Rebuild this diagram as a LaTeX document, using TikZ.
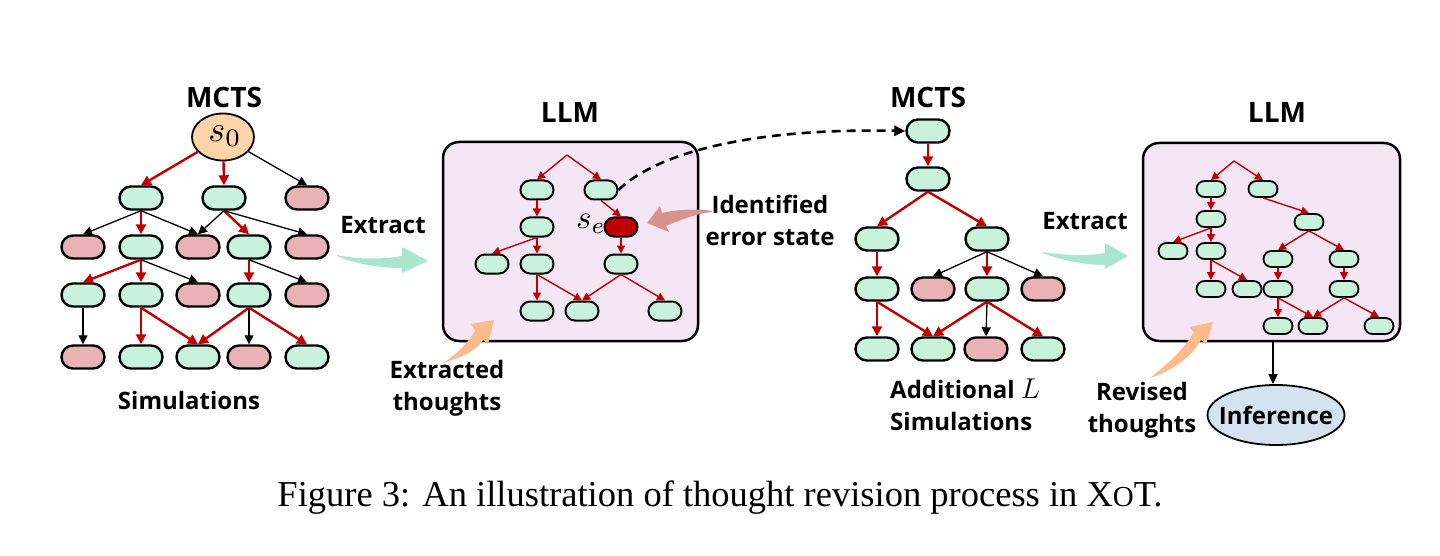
\documentclass[tikz,border=0pt]{standalone}
\usepackage{graphicx}
\usepackage{fontspec}
\setmainfont{Open Sans}
\newfontfamily\capfont{Liberation Serif}
\usetikzlibrary{arrows.meta,shapes.geometric}
\definecolor{mint}{HTML}{C8F2DC}
\definecolor{pinkn}{HTML}{E8B2B6}
\definecolor{redE}{HTML}{C00000}
\definecolor{lav}{HTML}{F4E6F4}
\definecolor{peach}{HTML}{FDD3A8}
\definecolor{arrOr}{HTML}{FDBA8A}
\definecolor{arrGr}{HTML}{A8E6CE}
\definecolor{arrPk}{HTML}{D9938E}
\definecolor{infblue}{HTML}{D5E3F1}
\begin{document}
\begin{tikzpicture}[x=1pt,y=-1pt,
  bignode/.style={draw=black,line width=2.4pt,rounded corners=11.5pt,minimum width=43pt,minimum height=23pt,inner sep=0pt},
  g/.style={bignode,fill=mint}, p/.style={bignode,fill=pinkn},
  smnode/.style={draw=black,line width=2pt,rounded corners=9.5pt,minimum width=33pt,minimum height=19pt,inner sep=0pt,fill=mint},
  tinynode/.style={draw=black,line width=1.8pt,rounded corners=8pt,minimum width=29pt,minimum height=16pt,inner sep=0pt,fill=mint},
  rr/.style={draw=redE,line width=2.4pt,-{Triangle[length=10pt,width=10pt]}},
  bb/.style={draw=black,line width=1.3pt,-{Triangle[length=9pt,width=9pt]}},
  rt/.style={draw=redE,line width=1.4pt,-{Triangle[length=8pt,width=8pt]}},
  lbl/.style={font=\fontsize{24}{32}\selectfont\bfseries,align=center,inner sep=0pt},
  ttl/.style={font=\fontsize{28}{32}\selectfont\bfseries,align=center,inner sep=0pt},
  llmbox/.style={draw=black,line width=2.5pt,fill=lav,rounded corners=16pt,inner sep=0pt},
]
\useasboundingbox (0,0) rectangle (1440,556);
\fill[white] (0,0) rectangle (1440,556);

% ---------- left MCTS tree ----------
\node[ttl] (mcts1) at (224,98) {MCTS};
\node[ellipse,draw=black,line width=1.8pt,fill=peach,minimum width=62pt,minimum height=47pt,inner sep=0pt] (s0) at (223,137) {};
\node[inner sep=0pt] (s0t) at (225,136) {\scalebox{3.6}{$s_0$}};
\node[g] (a1) at (141,198) {};
\node[g] (a2) at (224,198) {};
\node[p] (a3) at (307,198) {};
\node[p] (b1) at (83,247) {};
\node[g] (b2) at (141,247) {};
\node[p] (b3) at (198,247) {};
\node[g] (b4) at (249,247) {};
\node[p] (b5) at (307,247) {};
\node[g] (c1) at (83,295) {};
\node[g] (c2) at (141,295) {};
\node[p] (c3) at (198,295) {};
\node[g] (c4) at (249,295) {};
\node[p] (c5) at (307,295) {};
\node[p] (d1) at (83,357) {};
\node[g] (d2) at (141,357) {};
\node[g] (d3) at (198,357) {};
\node[p] (d4) at (249,357) {};
\node[g] (d5) at (307,357) {};
\draw[rr] (s0) -- (a1.north);
\draw[rr] (s0) -- (a2.north);
\draw[bb] (s0) -- (a3.north);
\draw[bb] (a1.south) -- (b1.north);
\draw[rr] (a1.south) -- (b2.north);
\draw[bb] (a1.south) -- (b3.north);
\draw[bb] (a2.south) -- (b3.north);
\draw[rr] (a2.south) -- (b4.north);
\draw[bb] (a2.south) -- (b5.north);
\draw[rr] (b2.south) -- (c1.north);
\draw[rr] (b2.south) -- (c2.north);
\draw[bb] (b2.south) -- (c3.north);
\draw[rr] (b4.south) -- (c4.north);
\draw[bb] (b4.south) -- (c5.north);
\draw[bb] (c1.south) -- (d1.north);
\draw[rr] (c2.south) -- (d2.north);
\draw[rr] (c2.south) -- (d3.north);
\draw[rr] (c4.south) -- (d3.north);
\draw[bb] (c4.south) -- (d4.north);
\draw[rr] (c4.south) -- (d5.north);
\node[lbl] (sim1) at (189,400) {Simulations};

% ---------- extract arrow 1 ----------
\fill[arrGr] (337,255) .. controls (360,260) and (385,259) .. (402,256) -- (402,247) -- (428,261) -- (402,273) -- (402,268) .. controls (380,268) and (355,264) .. (337,256) -- cycle;
\node[lbl] (ex1) at (383,225) {Extract};

% ---------- middle LLM box ----------
\node[ttl] (llm1) at (570,113) {LLM};
\node[llmbox,minimum width=255pt,minimum height=199pt] (box1) at (570.5,241.5) {};
\coordinate (r1) at (567,155);
\node[smnode] (m1) at (537,190) {};
\node[smnode] (m2) at (601,190) {};
\node[smnode] (m3) at (537,227) {};
\node[smnode,fill=redE] (err) at (621,227) {};
\node[smnode] (m5) at (492,264) {};
\node[smnode] (m6) at (537,264) {};
\node[smnode] (m7) at (621,264) {};
\node[smnode] (m8) at (537,311) {};
\node[smnode] (m9) at (582,311) {};
\node[smnode] (m10) at (665,311) {};
\draw[rt] (r1) -- (m1.north);
\draw[rt] (r1) -- (m2.north);
\draw[rt] (m1.south) -- (m3.north);
\draw[rt] (m2.south) -- (err.north);
\draw[rt] (m3.south) -- (m5.north);
\draw[rt] (m3.south) -- (m6.north);
\draw[rt] (err.south) -- (m7.north);
\draw[rt] (m6.south) -- (m8.north);
\draw[rt] (m6.south) -- (m9.north);
\draw[rt] (m7.south) -- (m9.north);
\draw[rt] (m7.south) -- (m10.north);
\node[inner sep=0pt] (se) at (591,224) {\scalebox{3.3}{$s_e$}};

% orange arrow + label
\fill[arrOr] (443,363) .. controls (463,357) and (477,350) .. (483,340) -- (488,344) -- (494,320) -- (471,324) -- (475,331) .. controls (468,343) and (457,354) .. (443,363) -- cycle;
\node[lbl] (xth) at (447,388) {Extracted\\thoughts};

% error label + arrow
\fill[arrPk] (712,211) .. controls (695,208) and (675,210) .. (662,213) -- (660,206) -- (647,223) -- (669,232) -- (666,226) .. controls (680,220) and (698,213) .. (712,212) -- cycle;
\node[lbl] (ies) at (770,220) {Identified\\error state};

% ---------- right MCTS tree ----------
\node[ttl] (mcts2) at (928,98) {MCTS};
\node[g] (t0) at (928,131) {};
\node[g] (t1) at (928,179) {};
\node[g] (t2a) at (877,239) {};
\node[g] (t2b) at (987,239) {};
\node[g] (t3a) at (877,289) {};
\node[p] (t3b) at (933,289) {};
\node[g] (t3c) at (987,289) {};
\node[p] (t3d) at (1043,289) {};
\node[g] (t4a) at (877,349) {};
\node[g] (t4b) at (933,349) {};
\node[p] (t4c) at (986,349) {};
\node[g] (t4d) at (1043,349) {};
\draw[rr] (t0.south) -- (t1.north);
\draw[rr] (t1.south) -- (t2a.north);
\draw[rr] (t1.south) -- (t2b.north);
\draw[rr] (t2a.south) -- (t3a.north);
\draw[bb] (t2b.south) -- (t3b.north);
\draw[rr] (t2b.south) -- (t3c.north);
\draw[bb] (t2b.south) -- (t3d.north);
\draw[rr] (t3a.south) -- (t4a.north);
\draw[rr] (t3a.south) -- (t4b.north);
\draw[rr] (t3c.south) -- (t4b.north);
\draw[bb] (t3c.south) -- (t4c.north);
\draw[rr] (t3c.south) -- (t4d.north);
\node[lbl,align=left,anchor=west] (addl) at (890,405) {Additional \scalebox{1.15}{$L$}\\Simulations};

% dashed connector
\draw[line width=2.6pt,dash pattern=on 9pt off 6pt,-{Triangle[length=11pt,width=10pt]}] (m2.east) .. controls (660,150) and (760,128) .. (t0.west);

% ---------- extract arrow 2 ----------
\fill[arrGr] (1043,252) .. controls (1065,256) and (1088,256) .. (1105,253) -- (1105,243) -- (1128,256) -- (1105,269) -- (1105,265) .. controls (1085,265) and (1060,260) .. (1043,253) -- cycle;
\node[lbl] (ex2) at (1085,221) {Extract};

% ---------- right LLM box ----------
\node[ttl] (llm2) at (1277,113) {LLM};
\node[llmbox,minimum width=257pt,minimum height=198pt] (box2) at (1271.5,242) {};
\coordinate (r2) at (1234,161);
\node[tinynode] (n1) at (1211,189) {};
\node[tinynode] (n2) at (1263,189) {};
\node[tinynode] (n3) at (1211,219) {};
\node[tinynode] (n4) at (1173,251) {};
\node[tinynode] (n5) at (1211,251) {};
\node[tinynode] (n6) at (1211,289) {};
\node[tinynode] (n7) at (1247,289) {};
\node[tinynode] (n8) at (1309,222) {};
\node[tinynode] (n9) at (1278,259) {};
\node[tinynode] (n10) at (1344,259) {};
\node[tinynode] (n11) at (1278,289) {};
\node[tinynode] (n12) at (1344,289) {};
\node[tinynode] (n13) at (1278,326) {};
\node[tinynode] (n14) at (1313,326) {};
\node[tinynode] (n15) at (1379,326) {};
\draw[rt] (r2) -- (n1.north);
\draw[rt] (r2) -- (n2.north);
\draw[rt] (n1.south) -- (n3.north);
\draw[rt] (n3.south) -- (n4.north);
\draw[rt] (n3.south) -- (n5.north);
\draw[rt] (n5.south) -- (n6.north);
\draw[rt] (n5.south) -- (n7.north);
\draw[rt] (n2.south) -- (n8.north);
\draw[rt] (n8.south) -- (n9.north);
\draw[rt] (n8.south) -- (n10.north);
\draw[rt] (n9.south) -- (n11.north);
\draw[rt] (n10.south) -- (n12.north);
\draw[rt] (n11.south) -- (n13.north);
\draw[rt] (n11.south) -- (n14.north);
\draw[rt] (n12.south) -- (n14.north);
\draw[rt] (n12.south) -- (n15.north);

% orange arrow 2 + label
\fill[arrOr] (1150,378) .. controls (1170,372) and (1192,357) .. (1201,340) -- (1206,344) -- (1213,322) -- (1190,327) -- (1194,332) .. controls (1184,350) and (1165,366) .. (1150,378) -- cycle;
\node[lbl] (rth) at (1142,410) {Revised\\thoughts};

% inference
\node[ellipse,draw=black,line width=1.8pt,fill=infblue,minimum width=137pt,minimum height=60pt,inner sep=0pt] (inf) at (1276,415) {};
\node[lbl] (inft) at (inf) {Inference};
\draw[draw=black,line width=1.6pt,-{Triangle[length=10pt,width=9pt]}] (box2.south -| 1273,0) -- (inf.north -| 1273,0);

% caption
\node[font=\capfont\fontsize{36.5}{40}\selectfont,inner sep=0pt] (cap) at (720,498) {Figure 3: An illustration of thought revision process in X{\fontsize{29}{32}\selectfont O}T.};
\end{tikzpicture}
\end{document}
